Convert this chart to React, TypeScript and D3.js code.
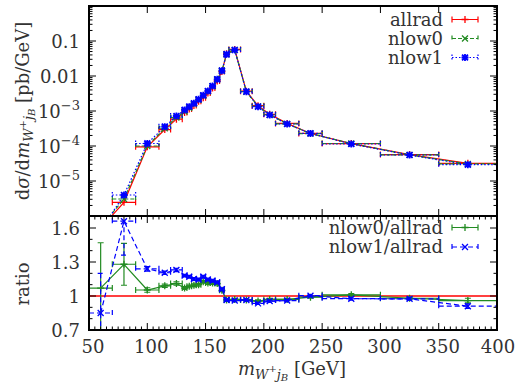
import React from 'react';
import * as d3 from 'd3';

// ---- data ----
const binEdges = [50, 70, 90, 110, 120, 130, 134, 138, 142, 146, 150, 154, 158, 162, 166, 170, 180, 190, 200, 210, 230, 250, 300, 350, 400];
const allrad = [4.5e-7, 2.46e-6, 9.5e-5, 2.95e-4, 5.85e-4, 9.07e-4, 1.14e-3, 1.44e-3, 1.89e-3, 2.4e-3, 3.26e-3, 4.56e-3, 7.19e-3, 1.34e-2, 4.32e-2, 5.76e-2, 3.69e-3, 1.42e-3, 8.05e-4, 4.43e-4, 2.28e-4, 1.17e-4, 5.67e-5, 3.2e-5];
const nlow0 = [4.8e-7, 3.06e-6, 1.0e-4, 3.22e-4, 6.5e-4, 9.7e-4, 1.23e-3, 1.58e-3, 2.08e-3, 2.7e-3, 3.63e-3, 5.09e-3, 7.98e-3, 1.41e-2, 4.17e-2, 5.59e-2, 3.56e-3, 1.36e-3, 7.81e-4, 4.3e-4, 2.26e-4, 1.18e-4, 5.56e-5, 3.07e-5];
const nlow1 = [3.8e-7, 3.98e-6, 1.18e-4, 3.56e-4, 7.2e-4, 1.07e-3, 1.33e-3, 1.66e-3, 2.16e-3, 2.81e-3, 3.73e-3, 5.18e-3, 8.05e-3, 1.42e-2, 4.17e-2, 5.53e-2, 3.56e-3, 1.33e-3, 7.69e-4, 4.25e-4, 2.29e-4, 1.14e-4, 5.53e-5, 2.92e-5];
const ratio0 = [1.07, 1.28, 1.053, 1.09, 1.11, 1.07, 1.085, 1.095, 1.1, 1.125, 1.115, 1.115, 1.11, 1.05, 0.965, 0.97, 0.965, 0.955, 0.97, 0.97, 0.99, 1.01, 0.98, 0.96];
const ratio0Err = [0.4, 0.185, 0.02, 0.015, 0.015, 0.012, 0.012, 0.012, 0.012, 0.012, 0.012, 0.012, 0.012, 0.012, 0.01, 0.01, 0.01, 0.01, 0.01, 0.01, 0.01, 0.012, 0.012, 0.02];
const ratio1 = [0.85, 1.66, 1.24, 1.205, 1.23, 1.18, 1.17, 1.15, 1.145, 1.17, 1.145, 1.135, 1.12, 1.06, 0.965, 0.96, 0.965, 0.935, 0.955, 0.96, 1.003, 0.976, 0.975, 0.91];
const ratio1Err = [0.35, 0.3, 0.02, 0.015, 0.015, 0.012, 0.012, 0.012, 0.012, 0.012, 0.012, 0.012, 0.012, 0.012, 0.01, 0.01, 0.01, 0.01, 0.01, 0.01, 0.01, 0.012, 0.012, 0.02];
const xTicks = [50, 100, 150, 200, 250, 300, 350, 400];
const topTicks = [1e-1, 1e-2, 1e-3, 1e-4, 1e-5];
const topTickBase = ['0.1', '0.01', '10', '10', '10'];
const topTickExp = ['', '', '−3', '−4', '−5'];
const ratioTicks = [0.7, 1.0, 1.3, 1.6];
const ratioTickLabels = ['0.7', '1', '1.3', '1.6'];
const legendTop = ['allrad', 'nlow0', 'nlow1'];
const legendRatio = ['nlow0/allrad', 'nlow1/allrad'];

// ---- layout ----
const W = 517, H = 383;
const L = 89, R = 497, T = 6, M = 216, B = 330;
const FONT = 'DejaVu Serif';
const FS = 18;
const SUB = 13, SUB2 = 10;
const TXT = { fontFamily: FONT };
const RED = '#ff0000', GREEN = '#228b22', BLUE = '#0000ff';

const x = d3.scaleLinear().domain([50, 400]).range([L, R]);
const yT = d3.scaleLog().domain([1e-6, 1]).range([M, T]);
const yR = d3.scaleLinear().domain([0.7, 1.7]).range([B, B - 113.33]);

const lo = binEdges.slice(0, -1);
const hi = binEdges.slice(1);
const centers = lo.map((l, i) => (l + hi[i]) / 2);

function markerPath(kind: string, cx: number, cy: number, s = 3.5) {
  const plus = `M${cx - s},${cy}H${cx + s}M${cx},${cy - s}V${cy + s}`;
  const c = s * 0.85;
  const cross = `M${cx - c},${cy - c}L${cx + c},${cy + c}M${cx - c},${cy + c}L${cx + c},${cy - c}`;
  if (kind === 'plus') return plus;
  if (kind === 'cross') return cross;
  return plus + cross;
}

function Series({ vals, errs, yScale, color, dash, marker, sw = 1.2 }: any) {
  const pts = vals.map((v: number, i: number) => [x(centers[i]), yScale(v)]);
  const line = d3.line()(pts as any) || '';
  const cap = 3;
  return (
    <g stroke={color} fill="none" strokeWidth={sw} strokeDasharray={dash}>
      <path d={line} />
      {vals.map((v: number, i: number) => {
        const cy = yScale(v);
        const x0 = x(lo[i]), x1 = x(hi[i]), cx = x(centers[i]);
        let d = `M${x0},${cy}H${x1}M${x0},${cy - cap}V${cy + cap}M${x1},${cy - cap}V${cy + cap}`;
        if (errs) {
          const ya = yScale(v + errs[i]), yb = yScale(v - errs[i]);
          d += `M${cx},${ya}V${yb}M${cx - cap},${ya}H${cx + cap}M${cx - cap},${yb}H${cx + cap}`;
        }
        return <path key={i} d={d} />;
      })}
      {vals.map((v: number, i: number) => (
        <path key={'m' + i} d={markerPath(marker, x(centers[i]), yScale(v))} strokeDasharray="none" strokeWidth={marker === 'star' ? 1.8 : 1.3} />
      ))}
    </g>
  );
}

function LegendItem({ label, y, color, dash, marker }: any) {
  const x0 = 452, x1 = 478, cy = y - 6;
  return (
    <g>
      <text x={443} y={y} textAnchor="end" style={TXT} fontSize={FS} fill="#333">{label}</text>
      <g stroke={color} fill="none" strokeWidth={1.2}>
        <path d={`M${x0},${cy}H${x1}M${x0},${cy - 3}V${cy + 3}M${x1},${cy - 3}V${cy + 3}`} strokeDasharray={dash} />
        <path d={markerPath(marker, (x0 + x1) / 2, cy)} strokeWidth={marker === 'star' ? 1.8 : 1.3} />
      </g>
    </g>
  );
}

export default function App() {
  const minorX = d3.range(55, 400, 5).filter((v) => v % 50 !== 0);
  const logMinor: number[] = [];
  for (let e = -6; e < 0; e++) for (let m = 2; m <= 9; m++) logMinor.push(m * Math.pow(10, e));
  const ratioMinor = d3.range(0.8, 1.7, 0.1).filter((v) => !ratioTicks.some((t) => Math.abs(t - v) < 1e-6));
  const majX = xTicks.filter((v) => v > 50 && v < 400);

  return (
    <svg width={W} height={H} style={{ display: 'block', position: 'absolute', left: 0, top: 0, fontFamily: FONT }}>
      <defs>
        <clipPath id="clipTop"><rect x={L} y={T} width={R - L} height={M - T} /></clipPath>
        <clipPath id="clipRat"><rect x={L} y={M} width={R - L} height={B - M} /></clipPath>
      </defs>
      <rect x={0} y={0} width={W} height={H} fill="#fff" />

      <g clipPath="url(#clipTop)">
        <Series vals={allrad} yScale={yT} color={RED} dash="none" marker="plus" />
        <Series vals={nlow0} yScale={yT} color={GREEN} dash="4,2" marker="cross" />
        <Series vals={nlow1} yScale={yT} color={BLUE} dash="1.5,2" marker="star" />
      </g>

      <g clipPath="url(#clipRat)">
        <line x1={L} x2={R} y1={yR(1)} y2={yR(1)} stroke={RED} strokeWidth={1.5} />
        <Series vals={ratio0} errs={ratio0Err} yScale={yR} color={GREEN} dash="none" marker="plus" />
        <Series vals={ratio1} errs={ratio1Err} yScale={yR} color={BLUE} dash="5,3" marker="cross" />
      </g>

      <g stroke="#000" strokeWidth={1}>
        {topTicks.map((v, i) => (
          <g key={'tt' + i}>
            <line x1={L} x2={L + 7} y1={yT(v)} y2={yT(v)} />
            <line x1={R} x2={R - 7} y1={yT(v)} y2={yT(v)} />
          </g>
        ))}
        {logMinor.map((v, i) => (
          <g key={'tm' + i}>
            <line x1={L} x2={L + 3.5} y1={yT(v)} y2={yT(v)} />
            <line x1={R} x2={R - 3.5} y1={yT(v)} y2={yT(v)} />
          </g>
        ))}
        {majX.map((v, i) => (
          <g key={'tx' + i}>
            <line x1={x(v)} x2={x(v)} y1={T} y2={T + 7} />
            <line x1={x(v)} x2={x(v)} y1={M} y2={M - 7} />
            <line x1={x(v)} x2={x(v)} y1={M} y2={M + 7} />
            <line x1={x(v)} x2={x(v)} y1={B} y2={B - 7} />
          </g>
        ))}
        {minorX.map((v, i) => (
          <g key={'mx' + i}>
            <line x1={x(v)} x2={x(v)} y1={M} y2={M + 3.5} />
            <line x1={x(v)} x2={x(v)} y1={B} y2={B - 3.5} />
          </g>
        ))}
        {ratioTicks.map((v, i) => (
          <g key={'rt' + i}>
            <line x1={L} x2={L + 7} y1={yR(v)} y2={yR(v)} />
            <line x1={R} x2={R - 7} y1={yR(v)} y2={yR(v)} />
          </g>
        ))}
        {ratioMinor.map((v, i) => (
          <g key={'rm' + i}>
            <line x1={L} x2={L + 3.5} y1={yR(v)} y2={yR(v)} />
            <line x1={R} x2={R - 3.5} y1={yR(v)} y2={yR(v)} />
          </g>
        ))}
      </g>

      <rect x={L} y={T} width={R - L} height={M - T} fill="none" stroke="#000" strokeWidth={2} />
      <rect x={L} y={M} width={R - L} height={B - M} fill="none" stroke="#000" strokeWidth={2} />

      <g fontSize={FS} fill="#333" style={TXT}>
        {topTicks.map((v, i) => (
          <text key={'tl' + i} x={80} y={yT(v) + 7} textAnchor="end" style={TXT}>
            {topTickBase[i]}
            {topTickExp[i] ? <tspan fontSize={SUB} dy={-8}>{topTickExp[i]}</tspan> : null}
          </text>
        ))}
        {ratioTicks.map((v, i) => (
          <text key={'rl' + i} x={80} y={yR(v) + 7} textAnchor="end" style={TXT}>{ratioTickLabels[i]}</text>
        ))}
        {xTicks.map((v, i) => (
          <text key={'xl' + i} x={Math.min(x(v) + 4, 498)} y={353} textAnchor="middle" style={TXT}>{v}</text>
        ))}
      </g>

      <text x={292} y={375} textAnchor="middle" fontSize={FS} fill="#333" style={TXT}>
        <tspan fontStyle="italic">m</tspan>
        <tspan fontSize={SUB} dy={4} fontStyle="italic">W</tspan>
        <tspan fontSize={SUB2} dy={-7}>+</tspan>
        <tspan fontSize={SUB} dy={7} fontStyle="italic">j</tspan>
        <tspan fontSize={SUB2} dy={2} fontStyle="italic">B</tspan>
        <tspan dy={-6}>{'\u00a0[GeV]'}</tspan>
      </text>
      <text transform="translate(29,111) rotate(-90)" textAnchor="middle" fontSize={FS} fill="#333" style={TXT}>
        d<tspan fontStyle="italic">σ</tspan>/d<tspan fontStyle="italic">m</tspan>
        <tspan fontSize={SUB} dy={4} fontStyle="italic">W</tspan>
        <tspan fontSize={SUB2} dy={-7}>+</tspan>
        <tspan fontSize={SUB} dy={7} fontStyle="italic">j</tspan>
        <tspan fontSize={SUB2} dy={2} fontStyle="italic">B</tspan>
        <tspan dy={-6}>{'\u00a0[pb/GeV]'}</tspan>
      </text>
      <text transform="translate(29,284) rotate(-90)" textAnchor="middle" fontSize={FS} fill="#333" style={TXT}>ratio</text>

      <LegendItem label={legendTop[0]} y={25.5} color={RED} dash="none" marker="plus" />
      <LegendItem label={legendTop[1]} y={44.5} color={GREEN} dash="4,2" marker="cross" />
      <LegendItem label={legendTop[2]} y={63.5} color={BLUE} dash="1.5,2" marker="star" />
      <LegendItem label={legendRatio[0]} y={233.5} color={GREEN} dash="none" marker="plus" />
      <LegendItem label={legendRatio[1]} y={253} color={BLUE} dash="5,3" marker="cross" />
    </svg>
  );
}
